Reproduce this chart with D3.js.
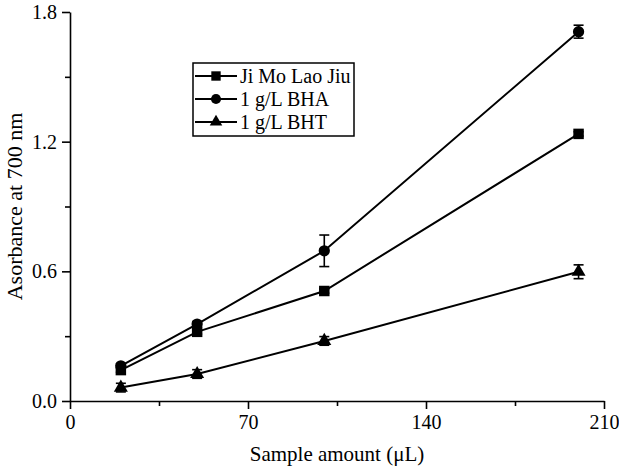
<!DOCTYPE html>
<html>
<head>
<meta charset="utf-8">
<script src="https://cdn.jsdelivr.net/npm/d3@7"></script>
</head>
<body style="margin:0; background:#fff">
<script>
// sample volumes (µL) and absorbance readings
const amounts = [20, 50, 100, 200];
const seriesNames = ["Ji Mo Lao Jiu", "1 g/L BHA", "1 g/L BHT"];
const jimo = [0.143, 0.32, 0.509, 1.236];
const bha = [0.163, 0.356, 0.695, 1.709];
const bht = [0.062, 0.125, 0.278, 0.598];
const jimoErr = [0.01, 0.01, 0.01, 0.01];
const bhaErr = [0.01, 0.012, 0.073, 0.03];
const bhtErr = [0.02, 0.02, 0.02, 0.032];
const xTicks = [0, 70, 140, 210];
const yTicks = [0.0, 0.6, 1.2, 1.8];

const w = 619;
const h = 469;
const margin = {top: 12, right: 15, bottom: 68, left: 70};

const x = d3.scaleLinear().domain([0, 210]).range([margin.left, w - margin.right]);
const y = d3.scaleLinear().domain([0, 1.8]).range([h - margin.bottom, margin.top]);

const svg = d3.select("body")
  .append("svg")
    .attr("width", w)
    .attr("height", h);

svg.append("rect")
    .attr("width", w)
    .attr("height", h)
    .attr("fill", "white");

// axes: minor ticks first, then majors with labels
svg.append("g")
    .attr("transform", `translate(0, ${y(0)})`)
    .call(d3.axisBottom(x).tickValues([35, 105, 175]).tickSize(5).tickFormat(""))
    .call(g => g.select(".domain").remove());

svg.append("g")
    .attr("transform", `translate(${margin.left}, 0)`)
    .call(d3.axisLeft(y).tickValues([0.3, 0.9, 1.5]).tickSize(5).tickFormat(""))
    .call(g => g.select(".domain").remove());

svg.append("g")
    .attr("transform", `translate(0, ${y(0)})`)
    .call(d3.axisBottom(x).tickValues(xTicks).tickSize(8).tickSizeOuter(0).tickPadding(6).tickFormat(d3.format("d")));

svg.append("g")
    .attr("transform", `translate(${margin.left}, 0)`)
    .call(d3.axisLeft(y).tickValues(yTicks).tickSize(8).tickSizeOuter(0).tickPadding(5).tickFormat(d3.format(".1f")));

svg.selectAll(".domain, .tick line").attr("stroke", "#000").attr("stroke-width", 1.6);
svg.selectAll(".tick text").style("font-size", "20px");

// axis titles
svg.append("text")
    .attr("x", (x(0) + x(210)) / 2)
    .attr("y", 461)
    .attr("text-anchor", "middle")
    .style("font-size", "21px")
    .text("Sample amount (\u03bcL)");

svg.append("text")
    .attr("transform", `translate(22, ${(y(0) + y(1.8)) / 2}) rotate(-90)`)
    .attr("text-anchor", "middle")
    .style("font-size", "22px")
    .text("Asorbance at 700 nm");

// series
const series = [
  {name: seriesNames[0], values: jimo, err: jimoErr, shape: d3.symbolSquare, size: 110},
  {name: seriesNames[1], values: bha, err: bhaErr, shape: d3.symbolCircle, size: 100},
  {name: seriesNames[2], values: bht, err: bhtErr, shape: d3.symbolTriangle, size: 85}
];

const line = d3.line().x(d => x(d.a)).y(d => y(d.v));

series.forEach(s => {
  const pts = amounts.map((a, i) => ({a: a, v: s.values[i], e: s.err[i]}));
  const g = svg.append("g");

  g.append("path")
      .datum(pts)
      .attr("d", line)
      .attr("fill", "none")
      .attr("stroke", "#000")
      .attr("stroke-width", 2);

  const eb = g.selectAll(".eb").data(pts).enter().append("g");
  eb.append("line")
      .attr("x1", d => x(d.a)).attr("x2", d => x(d.a))
      .attr("y1", d => y(d.v - d.e)).attr("y2", d => y(d.v + d.e))
      .attr("stroke", "#000").attr("stroke-width", 1.6);
  [-1, 1].forEach(sg => {
    eb.append("line")
        .attr("x1", d => x(d.a) - 5).attr("x2", d => x(d.a) + 5)
        .attr("y1", d => y(d.v + sg * d.e)).attr("y2", d => y(d.v + sg * d.e))
        .attr("stroke", "#000").attr("stroke-width", 1.6);
  });

  g.selectAll(".pt").data(pts).enter().append("path")
      .attr("transform", d => `translate(${x(d.a)}, ${y(d.v)})`)
      .attr("d", d3.symbol().type(s.shape).size(s.size))
      .attr("fill", "#000");
});

// legend
const legend = svg.append("g").attr("transform", "translate(193, 63)");
legend.append("rect")
    .attr("width", 161)
    .attr("height", 73)
    .attr("fill", "white")
    .attr("stroke", "#000")
    .attr("stroke-width", 1.5);

series.forEach((s, i) => {
  const row = legend.append("g").attr("transform", `translate(0, ${13 + i * 23})`);
  row.append("line")
      .attr("x1", 2).attr("x2", 44)
      .attr("stroke", "#000").attr("stroke-width", 2);
  row.append("path")
      .attr("transform", "translate(23, 0)")
      .attr("d", d3.symbol().type(s.shape).size(s.size * 0.8))
      .attr("fill", "#000");
  row.append("text")
      .attr("x", 47)
      .attr("y", 7)
      .style("font-size", "20px")
      .text(s.name);
});

// serif face everywhere, as in the original figure
svg.selectAll("text").style("font-family", '"Liberation Serif"').style("fill", "#000");
</script>
</body>
</html>
